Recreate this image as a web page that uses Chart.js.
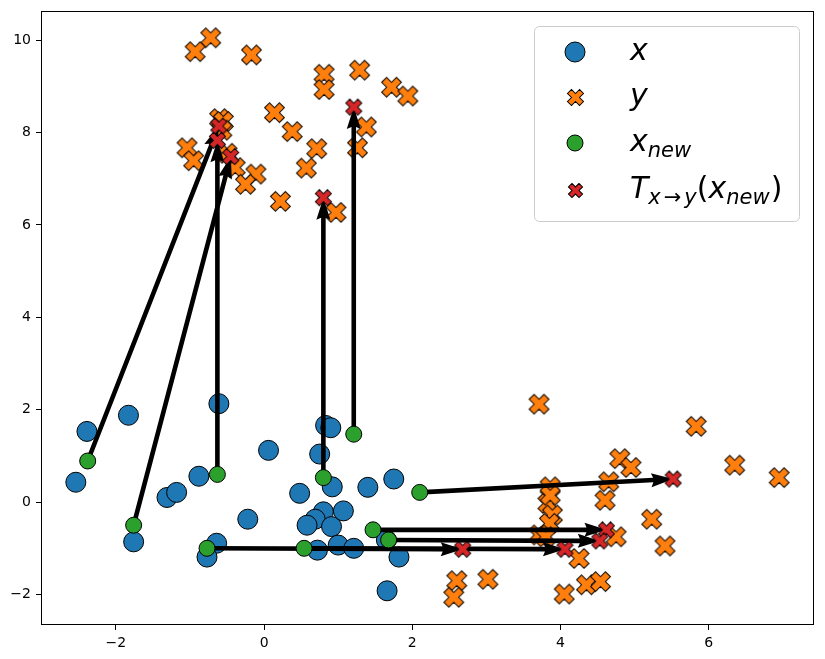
<!DOCTYPE html>
<html>
<head>
<meta charset="utf-8">
<script src="https://cdn.jsdelivr.net/npm/chart.js@4"></script>
<style>
  html, body { margin: 0; padding: 0; background: #fff; }
  #wrap { width: 825px; height: 659px; position: relative; }
</style>
</head>
<body>
<div id="wrap"><canvas id="mychart"></canvas></div>
<script>
// 원본 그림에서 읽어낸 값들
const xSrcX = [-2.39, -1.83, -2.54, -0.61, 0.06, -0.88, -1.31, -1.18, -1.76, -0.64,
  -0.77, -0.22, 0.83, 0.90, 0.75, 0.92, 0.48, 1.40, 1.75, 0.80,
  0.69, 0.58, 0.91, 1.07, 0.72, 1.00, 1.21, 1.65, 1.82, 1.66];
const xSrcY = [1.53, 1.88, 0.43, 2.13, 1.12, 0.56, 0.10, 0.21, -0.86, -0.89,
  -1.19, -0.37, 1.66, 1.61, 1.04, 0.33, 0.19, 0.32, 0.50, -0.21,
  -0.37, -0.50, -0.53, -0.19, -1.04, -0.93, -1.00, -0.82, -1.19, -1.92];

const yTgtX = [-0.72, -0.93, -0.17, 0.81, 0.81, 1.29, 1.72, 1.94, 0.14, 0.38,
  0.71, 0.57, 1.38, 1.26, 0.22, 0.97, -1.04, -0.95, -0.60, -0.55,
  -0.57, -0.39, -0.11, -0.25, -0.50,
  3.71, 5.83, 6.35, 6.95, 4.80, 4.95, 4.65, 4.60, 3.86, 3.83,
  3.89, 3.85, 3.71, 5.23, 5.41, 4.75, 4.25, 2.60, 2.56, 3.02,
  4.05, 4.35, 4.54, 3.86, 3.80];
const yTgtY = [10.05, 9.75, 9.68, 9.26, 8.93, 9.35, 8.98, 8.79, 8.43, 8.02,
  7.65, 7.23, 8.12, 7.67, 6.51, 6.27, 7.67, 7.39, 8.30, 8.24,
  8.05, 7.24, 7.10, 6.88, 7.55,
  2.12, 1.64, 0.80, 0.53, 0.94, 0.75, 0.44, 0.04, 0.33, -0.03,
  -0.28, -0.46, -0.71, -0.37, -0.95, -0.75, -1.22, -1.70, -2.06, -1.67,
  -1.99, -1.79, -1.72, 0.15, -0.75];

// x_new 과 그 변환 결과 (같은 순서로 짝지어짐)
const newX = [-2.38, -1.76, -0.63, -0.77, 0.54, 0.80, 1.21, 1.47, 1.68, 2.10];
const newY = [0.89, -0.50, 0.60, -1.00, -1.00, 0.53, 1.47, -0.60, -0.82, 0.21];
const mapX = [-0.61, -0.45, -0.63, 2.68, 4.06, 0.80, 1.21, 4.62, 4.53, 5.52];
const mapY = [8.14, 7.48, 7.83, -1.02, -1.02, 6.59, 8.55, -0.60, -0.84, 0.50];

const xTicks = [-2, 0, 2, 4, 6];
const yTicks = [-2, 0, 2, 4, 6, 8, 10];

const BLUE = "#1f77b4", ORANGE = "#ff7f0e", GREEN = "#2ca02c", RED = "#d62728";
const FONT = '"DejaVu Sans", sans-serif';

const toPts = (xs, ys) => xs.map((v, i) => ({ x: v, y: ys[i] }));

// matplotlib 'X' 마커 모양을 캔버스로 만든다
function makeX(size, fill) {
  const d = Math.ceil(size) + 4;
  const c = document.createElement("canvas");
  c.width = d; c.height = d;
  const g = c.getContext("2d");
  g.translate(d / 2, d / 2);
  g.rotate(Math.PI / 4);
  const s = size / 6;
  const v = [[-1, -3], [-1, -1], [-3, -1], [-3, 1], [-1, 1], [-1, 3],
             [1, 3], [1, 1], [3, 1], [3, -1], [1, -1], [1, -3]];
  g.beginPath();
  v.forEach((p, i) => i ? g.lineTo(p[0] * s, p[1] * s) : g.moveTo(p[0] * s, p[1] * s));
  g.closePath();
  g.fillStyle = fill;
  g.fill();
  g.lineWidth = 1;
  g.strokeStyle = "#000";
  g.stroke();
  return c;
}
const xOrange = makeX(21, ORANGE);
const xRed = makeX(17, RED);

// 화살표 (quiver 모양)
const arrowPlugin = {
  id: "arrows",
  beforeDatasetDraw(chart, args) {
    if (args.index !== 2) return;
    const ctx = chart.ctx, sx = chart.scales.x, sy = chart.scales.y;
    const w = 4.6, L = 22, La = 20, hw = 7;
    ctx.save();
    ctx.fillStyle = "#000";
    for (let i = 0; i < newX.length; i++) {
      const x0 = sx.getPixelForValue(newX[i]), y0 = sy.getPixelForValue(newY[i]);
      const x1 = sx.getPixelForValue(mapX[i]), y1 = sy.getPixelForValue(mapY[i]);
      const len = Math.hypot(x1 - x0, y1 - y0);
      const ux = (x1 - x0) / len, uy = (y1 - y0) / len;
      const nx = -uy, ny = ux;
      const bx = x1 - ux * La, by = y1 - uy * La;
      const hx = x1 - ux * L, hy = y1 - uy * L;
      ctx.beginPath();
      ctx.moveTo(x0 + nx * w / 2, y0 + ny * w / 2);
      ctx.lineTo(bx + nx * w / 2, by + ny * w / 2);
      ctx.lineTo(hx + nx * hw, hy + ny * hw);
      ctx.lineTo(x1, y1);
      ctx.lineTo(hx - nx * hw, hy - ny * hw);
      ctx.lineTo(bx - nx * w / 2, by - ny * w / 2);
      ctx.lineTo(x0 - nx * w / 2, y0 - ny * w / 2);
      ctx.closePath();
      ctx.fill();
    }
    ctx.restore();
  }
};

const legendRows = [
  { mark: "bigCircle", parts: [{ t: "x", it: true }] },
  { mark: "bigX", parts: [{ t: "y", it: true }] },
  { mark: "smallCircle", parts: [{ t: "x", it: true }, { t: "new", it: true, sub: true }] },
  { mark: "smallX", parts: [{ t: "T", it: true }, { t: "x", it: true, sub: true }, { t: "\u2192", sub: true, gap: 3 },
    { t: "y", it: true, sub: true }, { t: "(" }, { t: "x", it: true }, { t: "new", it: true, sub: true }, { t: ")", gap: 1 }] }
];

// 프레임과 범례
const framePlugin = {
  id: "frame",
  afterDraw(chart) {
    const ctx = chart.ctx, a = chart.chartArea;
    ctx.save();
    ctx.strokeStyle = "#000";
    ctx.lineWidth = 1;
    ctx.strokeRect(Math.round(a.left) + 0.5, Math.round(a.top) + 0.5,
      Math.round(a.right - a.left) - 1, Math.round(a.bottom - a.top) - 1);

    // legend box
    const bx = 534, by = 26, bw = 265, bh = 195, r = 5;
    ctx.beginPath();
    ctx.roundRect(bx + 0.5, by + 0.5, bw, bh, r);
    ctx.fillStyle = "rgba(255,255,255,0.8)";
    ctx.fill();
    ctx.strokeStyle = "#cccccc";
    ctx.stroke();

    const rowY = [52, 97, 143, 190];
    legendRows.forEach((row, i) => {
      const cy = rowY[i], mx = 575;
      if (row.mark === "bigCircle" || row.mark === "smallCircle") {
        ctx.beginPath();
        ctx.arc(mx, cy, row.mark === "bigCircle" ? 10 : 8, 0, Math.PI * 2);
        ctx.fillStyle = row.mark === "bigCircle" ? BLUE : GREEN;
        ctx.fill();
        ctx.strokeStyle = "#000";
        ctx.lineWidth = 1;
        ctx.stroke();
      } else {
        const img = row.mark === "bigX" ? makeX(17, ORANGE) : makeX(15, RED);
        ctx.drawImage(img, Math.round(mx - img.width / 2), Math.round(cy - img.height / 2));
      }
      let x = 630;
      const base = cy + 8;
      ctx.fillStyle = "#000";
      ctx.textBaseline = "alphabetic";
      ctx.textAlign = "left";
      row.parts.forEach(p => {
        const size = p.sub ? 21 : 30;
        x += p.gap || 0;
        ctx.font = (p.it ? "italic " : "") + size + "px " + FONT;
        ctx.fillText(p.t, x, p.sub ? base + 6 : base);
        x += ctx.measureText(p.t).width + (p.gap || 0);
      });
    });
    ctx.restore();
  }
};

const tickFmt = v => String(v).replace("-", "\u2212");

const ctx = document.getElementById("mychart");

const data = {
  datasets: [
    {
      label: "x",
      data: toPts(xSrcX, xSrcY),
      pointRadius: 10,
      backgroundColor: BLUE,
      borderColor: "#000",
      borderWidth: 1,
      order: 4,
    },
    {
      label: "y",
      data: toPts(yTgtX, yTgtY),
      pointStyle: xOrange,
      order: 3,
    },
    {
      label: "x_new",
      data: toPts(newX, newY),
      pointRadius: 8,
      backgroundColor: GREEN,
      borderColor: "#000",
      borderWidth: 1,
      order: 2,
    },
    {
      label: "T(x_new)",
      data: toPts(mapX, mapY),
      pointStyle: xRed,
      order: 1,
    },
  ],
};

const axisCommon = {
  type: "linear",
  border: { display: false },
  grid: { display: true, drawOnChartArea: false, drawTicks: true, tickLength: 5, color: "#000" },
  ticks: { color: "#000", font: { family: FONT, size: 14 }, padding: 5, callback: tickFmt },
};

const config = {
  type: "scatter",
  data: data,
  options: {
    responsive: true,
    maintainAspectRatio: false,
    animation: false,
    events: [],
    layout: { padding: { top: 9.5, right: 10, left: 0, bottom: 0 } },
    plugins: { legend: { display: false }, tooltip: { enabled: false } },
    scales: {
      x: {
        ...axisCommon,
        min: -3.01,
        max: 7.42,
        afterBuildTicks: s => { s.ticks = xTicks.map(v => ({ value: v })); },
        afterFit: s => { s.height = 34; },
      },
      y: {
        ...axisCommon,
        min: -2.66,
        max: 10.63,
        afterBuildTicks: s => { s.ticks = yTicks.map(v => ({ value: v })); },
        afterFit: s => { s.width = 41; s.paddingTop = 0; s.paddingBottom = 0; },
      },
    },
  },
  plugins: [arrowPlugin, framePlugin],
};

new Chart(ctx, config);
</script>
</body>
</html>
